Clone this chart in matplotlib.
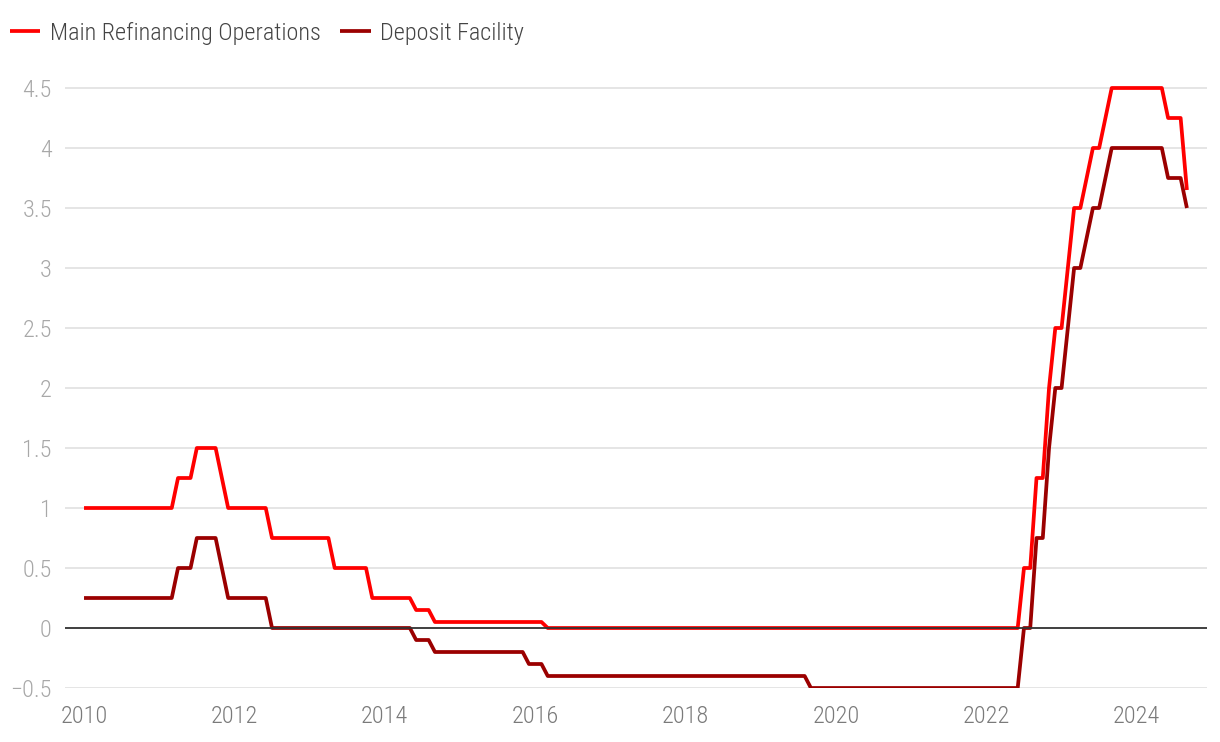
import matplotlib
matplotlib.use("Agg")
import matplotlib.pyplot as plt
from matplotlib import font_manager
import numpy as np

# ECB key rates, monthly (Jan 2010 - Sep 2024), one row per year
mro_rates = [
    1.0, 1.0, 1.0, 1.0, 1.0, 1.0, 1.0, 1.0, 1.0, 1.0, 1.0, 1.0,                    # 2010
    1.0, 1.0, 1.0, 1.25, 1.25, 1.25, 1.5, 1.5, 1.5, 1.5, 1.25, 1.0,                # 2011
    1.0, 1.0, 1.0, 1.0, 1.0, 1.0, 0.75, 0.75, 0.75, 0.75, 0.75, 0.75,              # 2012
    0.75, 0.75, 0.75, 0.75, 0.5, 0.5, 0.5, 0.5, 0.5, 0.5, 0.25, 0.25,              # 2013
    0.25, 0.25, 0.25, 0.25, 0.25, 0.15, 0.15, 0.15, 0.05, 0.05, 0.05, 0.05,        # 2014
    0.05, 0.05, 0.05, 0.05, 0.05, 0.05, 0.05, 0.05, 0.05, 0.05, 0.05, 0.05,        # 2015
    0.05, 0.05, 0.0, 0.0, 0.0, 0.0, 0.0, 0.0, 0.0, 0.0, 0.0, 0.0,                  # 2016
    0.0, 0.0, 0.0, 0.0, 0.0, 0.0, 0.0, 0.0, 0.0, 0.0, 0.0, 0.0,                    # 2017
    0.0, 0.0, 0.0, 0.0, 0.0, 0.0, 0.0, 0.0, 0.0, 0.0, 0.0, 0.0,                    # 2018
    0.0, 0.0, 0.0, 0.0, 0.0, 0.0, 0.0, 0.0, 0.0, 0.0, 0.0, 0.0,                    # 2019
    0.0, 0.0, 0.0, 0.0, 0.0, 0.0, 0.0, 0.0, 0.0, 0.0, 0.0, 0.0,                    # 2020
    0.0, 0.0, 0.0, 0.0, 0.0, 0.0, 0.0, 0.0, 0.0, 0.0, 0.0, 0.0,                    # 2021
    0.0, 0.0, 0.0, 0.0, 0.0, 0.0, 0.5, 0.5, 1.25, 1.25, 2.0, 2.5,                  # 2022
    2.5, 3.0, 3.5, 3.5, 3.75, 4.0, 4.0, 4.25, 4.5, 4.5, 4.5, 4.5,                  # 2023
    4.5, 4.5, 4.5, 4.5, 4.5, 4.25, 4.25, 4.25, 3.65,                               # 2024
]

deposit_rates = [
    0.25, 0.25, 0.25, 0.25, 0.25, 0.25, 0.25, 0.25, 0.25, 0.25, 0.25, 0.25,        # 2010
    0.25, 0.25, 0.25, 0.5, 0.5, 0.5, 0.75, 0.75, 0.75, 0.75, 0.5, 0.25,            # 2011
    0.25, 0.25, 0.25, 0.25, 0.25, 0.25, 0.0, 0.0, 0.0, 0.0, 0.0, 0.0,              # 2012
    0.0, 0.0, 0.0, 0.0, 0.0, 0.0, 0.0, 0.0, 0.0, 0.0, 0.0, 0.0,                    # 2013
    0.0, 0.0, 0.0, 0.0, 0.0, -0.1, -0.1, -0.1, -0.2, -0.2, -0.2, -0.2,             # 2014
    -0.2, -0.2, -0.2, -0.2, -0.2, -0.2, -0.2, -0.2, -0.2, -0.2, -0.2, -0.3,        # 2015
    -0.3, -0.3, -0.4, -0.4, -0.4, -0.4, -0.4, -0.4, -0.4, -0.4, -0.4, -0.4,        # 2016
    -0.4, -0.4, -0.4, -0.4, -0.4, -0.4, -0.4, -0.4, -0.4, -0.4, -0.4, -0.4,        # 2017
    -0.4, -0.4, -0.4, -0.4, -0.4, -0.4, -0.4, -0.4, -0.4, -0.4, -0.4, -0.4,        # 2018
    -0.4, -0.4, -0.4, -0.4, -0.4, -0.4, -0.4, -0.4, -0.5, -0.5, -0.5, -0.5,        # 2019
    -0.5, -0.5, -0.5, -0.5, -0.5, -0.5, -0.5, -0.5, -0.5, -0.5, -0.5, -0.5,        # 2020
    -0.5, -0.5, -0.5, -0.5, -0.5, -0.5, -0.5, -0.5, -0.5, -0.5, -0.5, -0.5,        # 2021
    -0.5, -0.5, -0.5, -0.5, -0.5, -0.5, 0.0, 0.0, 0.75, 0.75, 1.5, 2.0,            # 2022
    2.0, 2.5, 3.0, 3.0, 3.25, 3.5, 3.5, 3.75, 4.0, 4.0, 4.0, 4.0,                  # 2023
    4.0, 4.0, 4.0, 4.0, 4.0, 3.75, 3.75, 3.75, 3.5,                                # 2024
]

start_year = 2010
year_ticks = [2010, 2012, 2014, 2016, 2018, 2020, 2022, 2024]
y_ticks = [-0.5, 0, 0.5, 1, 1.5, 2, 2.5, 3, 3.5, 4, 4.5]

# pick a condensed face if one is around, otherwise plain Roboto a bit smaller
available = set(f.name for f in font_manager.fontManager.ttflist)
font_name, font_size = 'Roboto', 14
for name in ['Roboto Condensed', 'Archivo Narrow', 'Liberation Sans Narrow', 'PT Sans Narrow']:
    if name in available:
        font_name, font_size = name, 17.5
        break
plt.rcParams['font.family'] = [font_name, 'DejaVu Sans']
plt.rcParams['font.weight'] = 'light'

# month positions as fractional years
x = start_year + np.arange(len(mro_rates)) / 12.0

fig = plt.figure(figsize=(12.2, 7.42), dpi=100)
ax = fig.add_axes([65 / 1220, 54 / 742, 1142 / 1220, 624 / 742])

ax.plot(x, mro_rates, color='#ff0000', lw=2.7, solid_capstyle='butt',
        label='Main Refinancing Operations', zorder=3)
ax.plot(x, deposit_rates, color='#9b0000', lw=2.7, solid_capstyle='butt',
        label='Deposit Facility', zorder=3)
ax.axhline(0, color='#333333', lw=1.3, zorder=4)

ax.set_xlim(2009.747, 2024.934)
ax.set_ylim(-0.5, 4.7)
ax.set_xticks(year_ticks)
ax.set_xticklabels([str(y) for y in year_ticks])
ax.set_yticks(y_ticks)
ax.set_yticklabels([('\u22120.5' if v == -0.5 else f'{v:g}') for v in y_ticks])

ax.grid(axis='y', color='#e3e3e3', lw=1.3, zorder=0)
ax.grid(axis='x', visible=False)
for s in ax.spines.values():
    s.set_visible(False)
ax.tick_params(axis='y', length=0, pad=9.5, labelsize=font_size, labelcolor='#a8a8a8')
ax.tick_params(axis='x', length=0, pad=12, labelsize=font_size, labelcolor='#7a7a7a')

fig.legend(loc='center left', bbox_to_anchor=(-12 / 1220, 1 - 33 / 742), ncol=2,
           frameon=False, fontsize=font_size, handlelength=1.25, handletextpad=0.4,
           columnspacing=0.8, labelcolor='#444444')

fig.savefig('out.png', dpi=100)
